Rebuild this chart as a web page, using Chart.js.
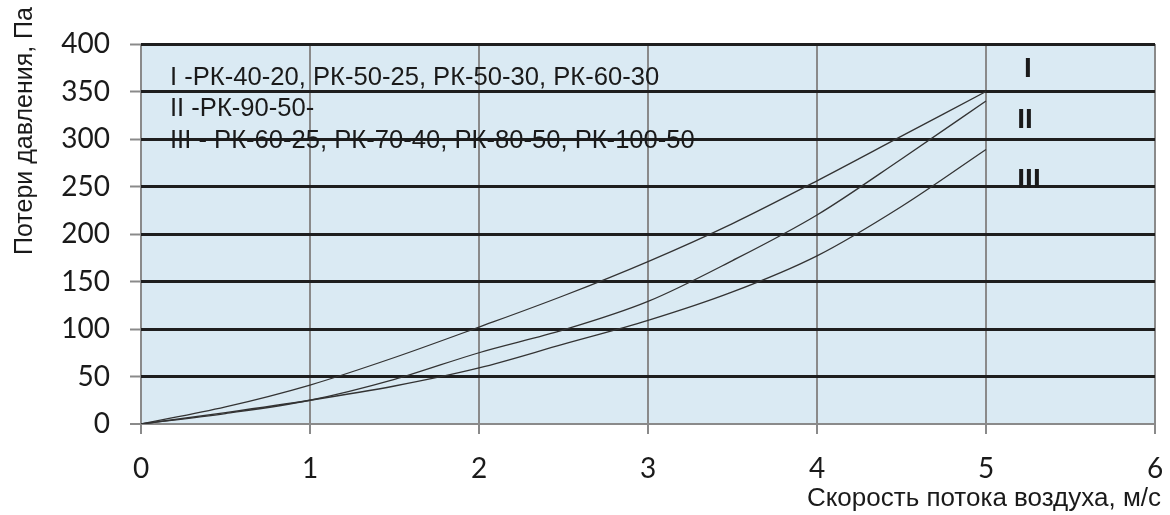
<!DOCTYPE html>
<html>
<head>
<meta charset="utf-8">
<script src="https://cdn.jsdelivr.net/npm/chart.js@4"></script>
<style>
  html, body { margin: 0; padding: 0; background: #ffffff; }
  #c { display: block; }
</style>
</head>
<body>
<canvas id="c" width="1170" height="515"></canvas>
<script>
// Data
const velocity = [0, 0.5, 1, 1.5, 2, 2.5, 3, 3.5, 4, 4.5, 5];      // м/с
const lossI    = [0, 18, 41, 70, 102, 135, 171, 211, 256, 303, 350]; // Па
const lossII   = [0, 11, 25, 47, 75, 99, 129, 172, 220, 279, 340];
const lossIII  = [0, 12, 25, 40, 59, 84, 109, 139, 177, 229, 289];

const xTicks = [0, 1, 2, 3, 4, 5, 6];
const yTicks = [0, 50, 100, 150, 200, 250, 300, 350, 400];

const seriesNames = ['I', 'II', 'III'];
const legendLines = [
  'I -РК-40-20, РК-50-25, РК-50-30, РК-60-30',
  'II -РК-90-50-',
  'III - РК-60-25, РК-70-40, РК-80-50, РК-100-50'
];
const xTitle = 'Скорость потока воздуха, м/с';
const yTitle = 'Потери давления, Па';

function pts(ys) { return velocity.map((v, i) => ({ x: v, y: ys[i] })); }

const lineStyle = {
  showLine: true, borderColor: '#333333', borderWidth: 1.3,
  pointRadius: 0, fill: false, tension: 0.4, cubicInterpolationMode: 'monotone'
};

const bgPlugin = {
  id: 'bg',
  beforeDraw(chart) {
    const { ctx, chartArea: a } = chart;
    ctx.save();
    ctx.fillStyle = '#daeaf3';
    ctx.fillRect(a.left, a.top, a.right - a.left, a.bottom - a.top);
    ctx.restore();
  }
};

const textPlugin = {
  id: 'texts',
  afterDraw(chart) {
    const { ctx } = chart;
    ctx.save();
    ctx.fillStyle = '#1a1a1a';
    // axis titles
    ctx.font = '26px "Liberation Sans", Arial, sans-serif';
    ctx.textAlign = 'right';
    ctx.textBaseline = 'alphabetic';
    ctx.fillText(xTitle, 1161, 506);
    ctx.save();
    ctx.font = '25px "Liberation Sans", Arial, sans-serif';
    ctx.translate(32, 131);
    ctx.rotate(-Math.PI / 2);
    ctx.textAlign = 'center';
    ctx.fillText(yTitle, 0, 0);
    ctx.restore();
    // legend list inside the plot
    ctx.font = '25.6px "Liberation Sans", Arial, sans-serif';
    ctx.textAlign = 'left';
    const baselines = [85, 116, 148];
    legendLines.forEach((t, i) => ctx.fillText(t, 170, baselines[i]));
    // curve labels
    ctx.font = 'bold 28px "Liberation Sans", Arial, sans-serif';
    ctx.textAlign = 'center';
    const lx = [1028, 1025, 1029];
    const ly = [77, 128, 188];
    seriesNames.forEach((t, i) => ctx.fillText(t, lx[i], ly[i]));
    ctx.restore();
  }
};

new Chart(document.getElementById('c'), {
  type: 'scatter',
  data: {
    datasets: [
      Object.assign({ label: seriesNames[0], data: pts(lossI) }, lineStyle),
      Object.assign({ label: seriesNames[1], data: pts(lossII) }, lineStyle),
      Object.assign({ label: seriesNames[2], data: pts(lossIII) }, lineStyle)
    ]
  },
  options: {
    responsive: false,
    animation: false,
    devicePixelRatio: 1,
    layout: { padding: { top: 44, right: 15, left: 0, bottom: 0 } },
    plugins: { legend: { display: false }, tooltip: { enabled: false } },
    scales: {
      x: {
        type: 'linear', min: xTicks[0], max: xTicks[xTicks.length - 1],
        afterBuildTicks(s) { s.ticks = xTicks.map(v => ({ value: v })); },
        afterFit(s) { s.height = 91; s.paddingLeft = 0; s.paddingRight = 0; },
        ticks: { font: { family: 'Lato', size: 28 }, color: '#1a1a1a', padding: 18, maxRotation: 0 },
        grid: { color: '#8a8a8a', lineWidth: 2, tickLength: 10, tickColor: '#8a8a8a', tickWidth: 2 },
        border: { display: false }
      },
      y: {
        type: 'linear', min: yTicks[0], max: yTicks[yTicks.length - 1],
        afterBuildTicks(s) { s.ticks = yTicks.map(v => ({ value: v })); },
        afterFit(s) { s.width = 141; s.paddingTop = 0; s.paddingBottom = 0; },
        ticks: { font: { family: 'Lato', size: 28 }, color: '#1a1a1a', padding: 20 },
        grid: {
          color: c => (c.tick && c.tick.value === 0) ? '#8a8a8a' : '#1e1e1e',
          lineWidth: c => (c.tick && c.tick.value === 0) ? 2 : 3,
          tickLength: 11, tickColor: '#8a8a8a', tickWidth: 2
        },
        border: { display: false }
      }
    }
  },
  plugins: [bgPlugin, textPlugin]
});
</script>
</body>
</html>
